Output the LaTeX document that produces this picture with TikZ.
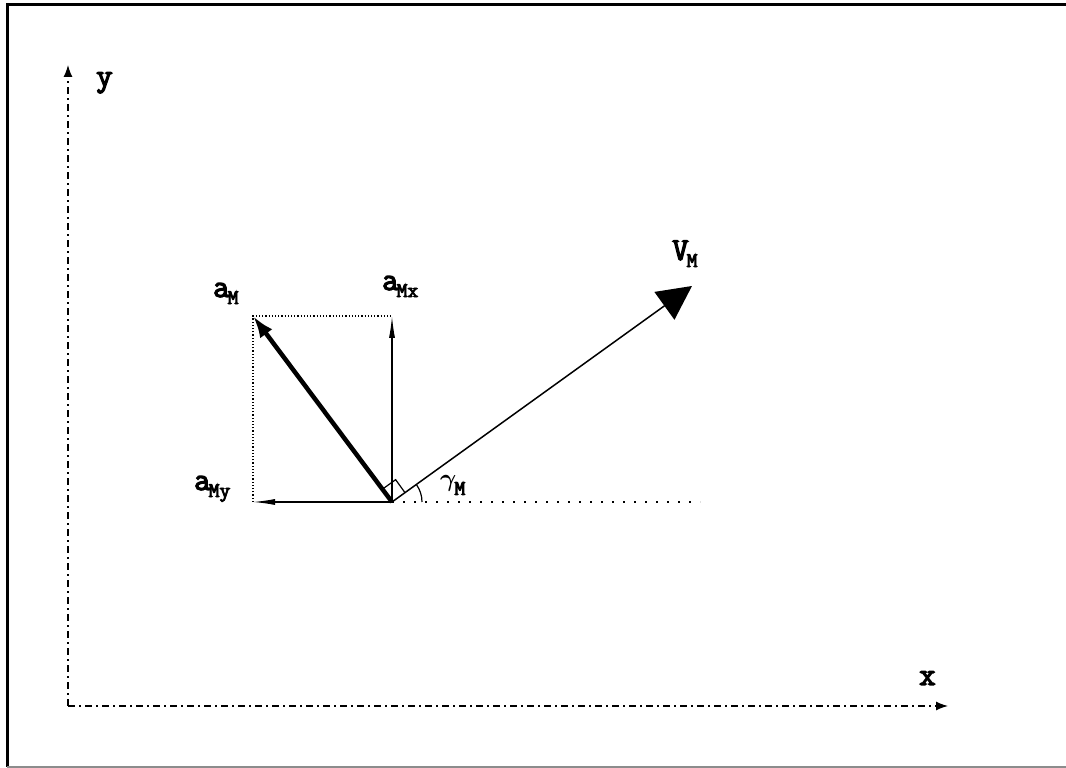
\documentclass[tikz,border=0pt]{standalone}
\usepackage{bm}
\usepackage{fontspec}
\setmonofont{Latin Modern Mono}[BoldFont={Latin Modern Mono},BoldFeatures={FakeBold=4}]
\usetikzlibrary{arrows.meta}
\newcommand{\lowsub}[1]{\kern-2pt\raisebox{-.22em}{\fontsize{21}{22}\selectfont#1}}

\begin{document}
\begin{tikzpicture}[x=1pt,y=1pt,font=\ttfamily\bfseries\fontsize{32}{33}\selectfont,
  axis/.style={dash pattern=on 7pt off 4pt on 2pt off 4pt,line width=1.3pt,-{Latex[length=12pt,width=9pt]}},
  guide/.style={dotted,line width=1.2pt},
  comp/.style={line width=1.2pt,-{Latex[length=22pt,width=6pt]}},
  tag/.style={anchor=base west,inner sep=0pt}]
\path[use as bounding box] (0,0) rectangle (1066,768);
\draw[line width=3pt] (1070,763) -- (7,763) -- (7,1);
\draw[black!45,line width=2pt] (7,1) -- (1070,1);

\coordinate (corner) at (68,62);
\coordinate (ytip) at (68,703);
\coordinate (xtip) at (948,62);
\coordinate (O) at (392,266);
\coordinate (aM) at (253,452);
\coordinate (aMx) at (392,452);
\coordinate (aMy) at (253,266);
\coordinate (VM) at (692,482);
\coordinate (ref) at (700,266);

\draw[axis] (corner) -- (ytip);
\draw[axis] (corner) -- (xtip);
\draw[guide] (aMy) -- (aM) -- (aMx);
\draw[line width=1.5pt,dash pattern=on 2pt off 9pt] (O) -- (ref);
\draw[comp] (O) -- (aMx);
\draw[comp] (O) -- (aMy);
\draw[line width=4.5pt,-{Latex[length=22pt,width=15pt]}] (O) -- (aM);
\draw[line width=1.5pt,-{Triangle[length=34pt,width=34pt]}] (O) -- (VM);
\draw[line width=1.2pt,shift={(O)},rotate=35.75] (16,0) -- (16,16) -- (0,16);
\draw[line width=1.2pt] ([shift={(30,0)}]O) arc[start angle=0,end angle=35.75,radius=30];

\node[tag] (ylab) at (96,682) {y};
\node[tag] (xlab) at (919,83) {x};
\node[tag] (aMlab) at (213,471) {a\lowsub{M}};
\node[tag] (aMxlab) at (382,478) {a\lowsub{Mx}};
\node[tag] (aMylab) at (194,278) {a\lowsub{My}};
\node[tag] (VMlab) at (672,508) {V\lowsub{M}};
\node[tag] (gamlab) at (440,281) {\fontsize{36}{36}\selectfont$\bm{\gamma}$\lowsub{M}};
\end{tikzpicture}
\end{document}
